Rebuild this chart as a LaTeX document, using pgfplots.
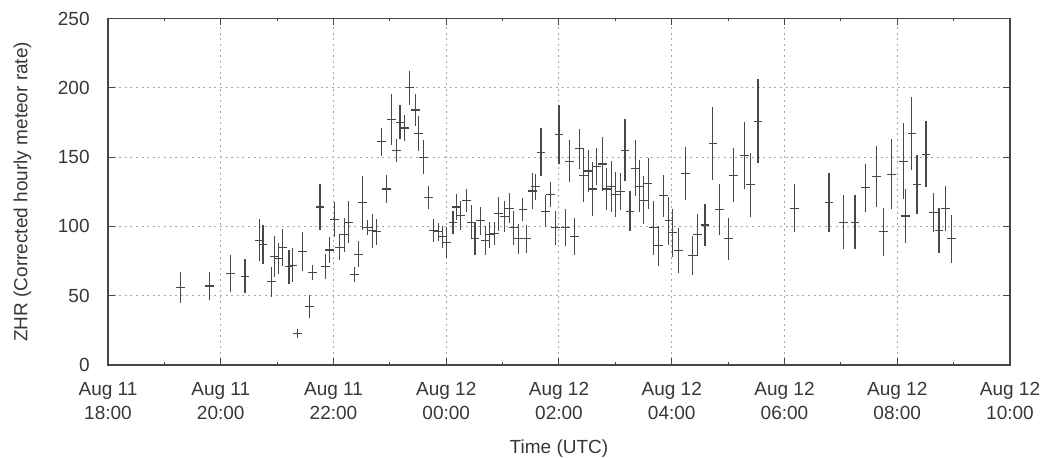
\documentclass[border=0pt]{standalone}
\usepackage{pgfplots}
\pgfplotsset{compat=1.18}
\usepackage{pgfplotstable}
\usepackage{fontspec}
\setmainfont{Liberation Sans}
\definecolor{txt}{RGB}{55,55,55}
\definecolor{framec}{RGB}{70,70,70}
\definecolor{gridc}{RGB}{165,165,165}
\definecolor{barc}{RGB}{72,72,72}

\pgfplotstableread{
h v e
1.28 56 10
1.80 57 9
2.18 66 12
2.43 64 11
2.68 90 14
2.75 87 13
2.90 60 9.5
2.95 78 13.5
3.03 77 10
3.10 85 12
3.21 71 11
3.27 72 11
3.36 23 2
3.45 82 13
3.58 42.5 7
3.63 66.5 4
3.76 114 15
3.86 71 8
3.93 83 8
4.02 105 11
4.11 85 8
4.19 94 11
4.27 103 14
4.37 65.5 4
4.44 80 8
4.52 117 18
4.60 99 4
4.69 97 11
4.76 96 8
4.85 161 9
4.94 127 9
5.03 177 17
5.12 155 7
5.18 175 11
5.26 171 8
5.35 200 11
5.45 184 10
5.51 167 11
5.60 150 11
5.68 121 7
5.77 97 7
5.86 96 5
5.93 92.5 6.5
6.00 88.5 10
6.12 103 7
6.18 114 8
6.26 108 9
6.36 119 7
6.45 103 11
6.51 91 10
6.61 104 9
6.69 90 9
6.77 94 8
6.85 95 7
6.93 109 11
7.03 107 10
7.12 113 9.5
7.20 99 11
7.28 91 9.5
7.36 112 7
7.43 91 9
7.53 125.5 12
7.59 128.5 8
7.68 153.5 16
7.76 111 10
7.85 123 8
7.94 99 11
8.00 166 20
8.12 99 12
8.18 147 14
8.27 93 12
8.37 156 13
8.44 137 18
8.52 140 14
8.59 127 18
8.67 143 12
8.77 145 18
8.85 127 14
8.93 129 17
9.01 123 15
9.09 125 12
9.17 155 21
9.26 111 13
9.35 142 19
9.42 129 17.5
9.50 119 16
9.58 131 17
9.67 99 18
9.77 86 13
9.86 122 14
9.95 104 16
10.01 95.5 16
10.12 82.5 15
10.24 138 18
10.37 79 13
10.45 94 14
10.59 101 14
10.73 160 25
10.85 112 17
11.00 91 14
11.09 137 18
11.29 151 23
11.40 130 22
11.53 176 29
12.18 113 16
12.79 117 20
13.04 103 18
13.25 103 18
13.43 128 16
13.63 136 21
13.76 96 16
13.90 137.5 24
14.11 147 26
14.15 107.5 18.5
14.26 167 25
14.35 130 20
14.51 152 22.5
14.64 110 13
14.74 97 15
14.86 113 15
14.96 91 16
}\zhrdata

\begin{document}
\fontsize{9.5}{12}\selectfont
\begin{tikzpicture}
\useasboundingbox (-54pt,-46.5pt) rectangle (466.5pt,182.5pt);
\begin{axis}[
  name=ax,
  at={(0,0)}, anchor=south west, scale only axis,
  width=451pt, height=173.25pt,
  xmin=0, xmax=16, ymin=0, ymax=250,
  xtick={0,2,...,16}, minor xtick={1,3,...,15},
  xticklabels={{Aug 11\\18:00},{Aug 11\\20:00},{Aug 11\\22:00},{Aug 12\\00:00},{Aug 12\\02:00},{Aug 12\\04:00},{Aug 12\\06:00},{Aug 12\\08:00},{Aug 12\\10:00}},
  ytick={0,50,...,250},
  /pgf/number format/assume math mode=true,
  tick align=inside, tick pos=both,
  major tick length=3.5pt, minor tick length=1.5pt,
  xmajorgrids, ymajorgrids,
  major grid style={gridc, line width=0.5pt, dash pattern=on 1pt off 1.8pt},
  axis line style={framec, line width=0.6pt},
  every tick/.style={framec, line width=0.5pt},
  x tick label style={align=center, font=\fontsize{9.5}{12}\selectfont, text=txt, inner sep=0pt, yshift=-8.5pt},
  y tick label style={font=\fontsize{9.5}{12}\selectfont, text=txt, inner sep=0pt, anchor=east, xshift=-9pt},
  xlabel={Time (UTC)},
  xlabel style={at={(axis description cs:0.5,-0.2548)}, anchor=base, inner sep=0pt, text=txt, font=\fontsize{9.5}{12}\selectfont},
]
\addplot[barc, line width=0.55pt, only marks, mark=-, mark size=2.2pt,
  mark options={barc, line width=0.55pt},
  error bars/.cd, y dir=both, y explicit,
  error bar style={barc, line width=0.55pt},
  error mark options={barc, mark size=0.9pt, line width=0.55pt}]
  table[x=h, y=v, y error=e] {\zhrdata};
\end{axis}
\path (ax.south west) ++(-40.25pt,86.625pt) node[rotate=90, anchor=base, inner sep=0pt, text=txt, font=\fontsize{9.5}{12}\selectfont] {ZHR (Corrected hourly meteor rate)};
\end{tikzpicture}
\end{document}
